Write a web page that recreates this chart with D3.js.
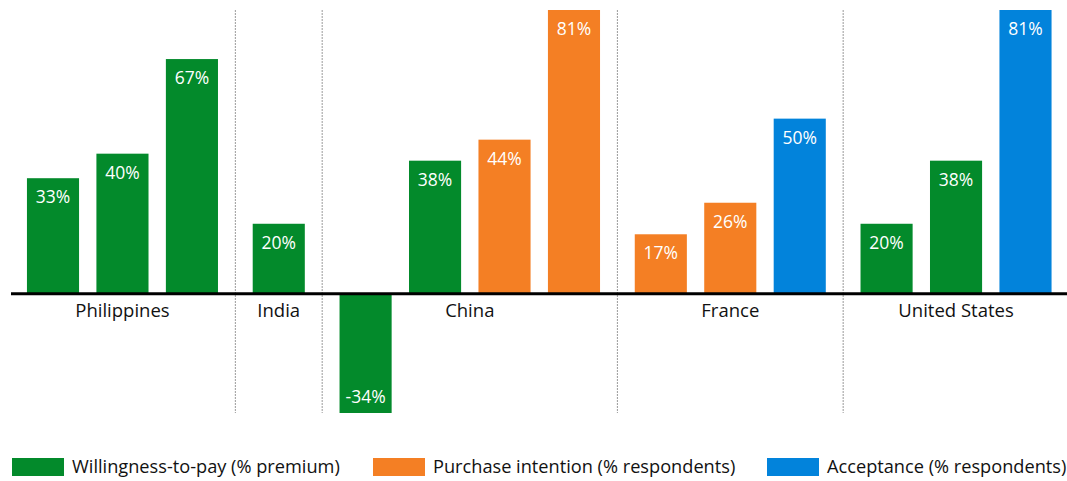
<!DOCTYPE html>
<html>
<head>
<meta charset="utf-8">
<script src="https://cdn.jsdelivr.net/npm/d3@7"></script>
<style>
  body { margin: 0; background: #fff; }
  text { font-family: "Open Sans", "Noto Sans", sans-serif; }
</style>
</head>
<body>
<script>
// data
const countries = ["Philippines", "India", "China", "France", "United States"];
const seriesNames = ["Willingness-to-pay (% premium)", "Purchase intention (% respondents)", "Acceptance (% respondents)"];
const barSeries = [[0, 0, 0], [0], [0, 0, 1, 1], [1, 1, 2], [0, 0, 2]];
const barValues = [[33, 40, 67], [20], [-34, 38, 44, 81], [17, 26, 50], [20, 38, 81]];
const colors = ["#038a2b", "#f47f24", "#0283db"];

const width = 1067, height = 481;
const groupGap = 0.25;

// flatten into bars with a slot position
let bars = [], groups = [], slot = 0;
countries.forEach((c, gi) => {
  const start = slot;
  barValues[gi].forEach((v, bi) => {
    bars.push({country: c, series: barSeries[gi][bi], value: v, slot: slot});
    slot += 1;
  });
  groups.push({country: c, first: start, last: slot - 1});
  slot += groupGap;
});
const lastSlot = d3.max(bars, d => d.slot);

const x = d3.scaleLinear()
    .domain([0, lastSlot])
    .range([53, 1025.5]);
const step = x(1) - x(0);
const barW = step * 0.75;

const y = d3.scaleLinear()
    .domain([d3.min(bars, d => d.value), d3.max(bars, d => d.value)])
    .range([413, 10]);

const svg = d3.select("body").append("svg")
    .attr("width", width)
    .attr("height", height);

// dotted separators between countries
svg.selectAll("line.sep")
    .data(groups.slice(1))
  .enter().append("line")
    .attr("class", "sep")
    .attr("x1", (d, i) => x((groups[i].last + d.first) / 2))
    .attr("x2", (d, i) => x((groups[i].last + d.first) / 2))
    .attr("y1", 10)
    .attr("y2", 413)
    .attr("stroke", "#9a9a9a")
    .attr("stroke-width", 1)
    .attr("stroke-dasharray", "2,1");

// bars
svg.selectAll("rect.bar")
    .data(bars)
  .enter().append("rect")
    .attr("class", "bar")
    .attr("x", d => x(d.slot) - barW / 2)
    .attr("width", barW)
    .attr("y", d => y(Math.max(0, d.value)))
    .attr("height", d => Math.abs(y(d.value) - y(0)))
    .attr("fill", d => colors[d.series]);

// value labels
svg.selectAll("text.val")
    .data(bars)
  .enter().append("text")
    .attr("class", "val")
    .attr("x", d => x(d.slot))
    .attr("y", d => d.value >= 0 ? y(d.value) + 25 : y(d.value) - 10)
    .attr("text-anchor", "middle")
    .attr("fill", "#fff")
    .style("font-size", "17.5px")
    .text(d => d.value + "%");

// zero line
svg.append("line")
    .attr("x1", 11)
    .attr("x2", width)
    .attr("y1", y(0))
    .attr("y2", y(0))
    .attr("stroke", "#000")
    .attr("stroke-width", 3);

// country labels
svg.selectAll("text.country")
    .data(groups)
  .enter().append("text")
    .attr("class", "country")
    .attr("x", d => (x(d.first) + x(d.last)) / 2)
    .attr("y", 317)
    .attr("text-anchor", "middle")
    .attr("fill", "#111")
    .style("font-size", "18.5px")
    .text(d => d.country);

// legend
const legendX = [12, 373, 767];
const legend = svg.selectAll("g.legend")
    .data(seriesNames)
  .enter().append("g")
    .attr("class", "legend")
    .attr("transform", (d, i) => "translate(" + legendX[i] + ",458)");

legend.append("rect")
    .attr("width", 52)
    .attr("height", 18)
    .attr("fill", (d, i) => colors[i]);

legend.append("text")
    .attr("x", 60)
    .attr("y", 15)
    .attr("fill", "#111")
    .style("font-size", "18.2px")
    .text(d => d);
</script>
</body>
</html>
